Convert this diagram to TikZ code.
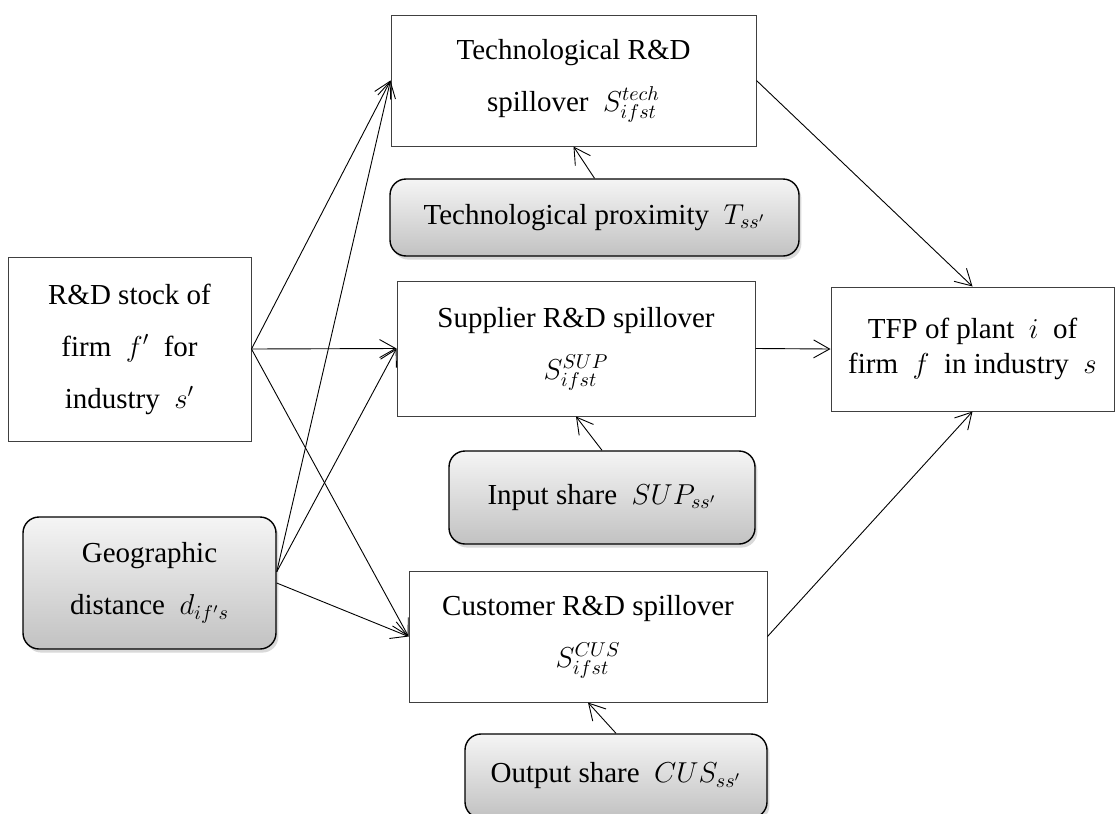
\documentclass[tikz,border=0pt]{standalone}
\usepackage{fontspec}
\setmainfont{Liberation Serif}
\usetikzlibrary{arrows.meta,shadows}

\begin{document}
\begin{tikzpicture}[x=0.5pt,y=-0.5pt,
	spillbox/.style={draw=black!75,line width=0.5pt,fill=white,rectangle,align=center,
		inner sep=0pt,font=\fontsize{14.5pt}{26pt}\selectfont},
	sharebox/.style={draw=black,line width=0.7pt,rectangle,rounded corners=8pt,align=center,
		inner sep=0pt,top color=gray!8,bottom color=gray!48,
		drop shadow={shadow xshift=1.2pt,shadow yshift=-1.8pt,opacity=0.3},
		font=\fontsize{14.5pt}{26pt}\selectfont},
	link/.style={line width=0.45pt,-{Straight Barb[length=8pt,width=9pt]}}]

				\useasboundingbox (0,0) rectangle (1115,814);

				\node[spillbox,minimum width=182.5pt,minimum height=65.5pt] (tech) at (573.5,80.5) {Technological R\&D\\spillover~~$S_{ifst}^{tech}$};
				\node[sharebox,minimum width=204.5pt,minimum height=38.5pt] (techprox) at (594.5,217.5) {Technological proximity~~$T_{ss'}$};
				\node[spillbox,minimum width=121.5pt,minimum height=92pt] (stock) at (129.5,349) {R\&D stock of\\firm~~$f'$~~for\\industry~~$s'$};
				\node[spillbox,minimum width=179pt,minimum height=67.5pt] (supplier) at (576,348.5) {Supplier R\&D spillover\\$S_{ifst}^{SUP}$};
				\node[spillbox,minimum width=141.5pt,minimum height=62pt,font=\fontsize{14.5pt}{17.5pt}\selectfont] (tfp) at (972.5,349) {TFP of plant~~$i$~~of\\firm~~$f$~~in industry~~$s$};
				\node[sharebox,minimum width=153pt,minimum height=46.5pt] (inshare) at (602,497.5) {Input share~~$SUP_{ss'}$};
				\node[sharebox,minimum width=126.5pt,minimum height=66pt] (geodist) at (149.5,583) {Geographic\\distance~~$d_{if's}$};
				\node[spillbox,minimum width=179pt,minimum height=65.5pt] (customer) at (588,636.5) {Customer R\&D spillover\\$S_{ifst}^{CUS}$};
				\node[sharebox,minimum width=151pt,minimum height=42pt] (outshare) at (616,776) {Output share~~$CUS_{ss'}$};

				\draw[link] (stock.east) -- (tech.west);
				\draw[link] (stock.east) -- (supplier.west);
				\draw[link] (stock.east) -- (customer.west);

				\draw[link] (geodist.5) -- (tech.west);
				\draw[link] (geodist.5) -- (supplier.west);
				\draw[link] (geodist.east) -- (customer.west);

				\draw[link] (techprox.north) -- (tech.south);
				\draw[link] (inshare.north) -- (supplier.south);
				\draw[link] (outshare.north) -- (customer.south);

				\draw[link] (tech.east) -- (tfp.north);
				\draw[link] (supplier.east) -- (tfp.west);
				\draw[link] (customer.east) -- (tfp.south);

\end{tikzpicture}
\end{document}
